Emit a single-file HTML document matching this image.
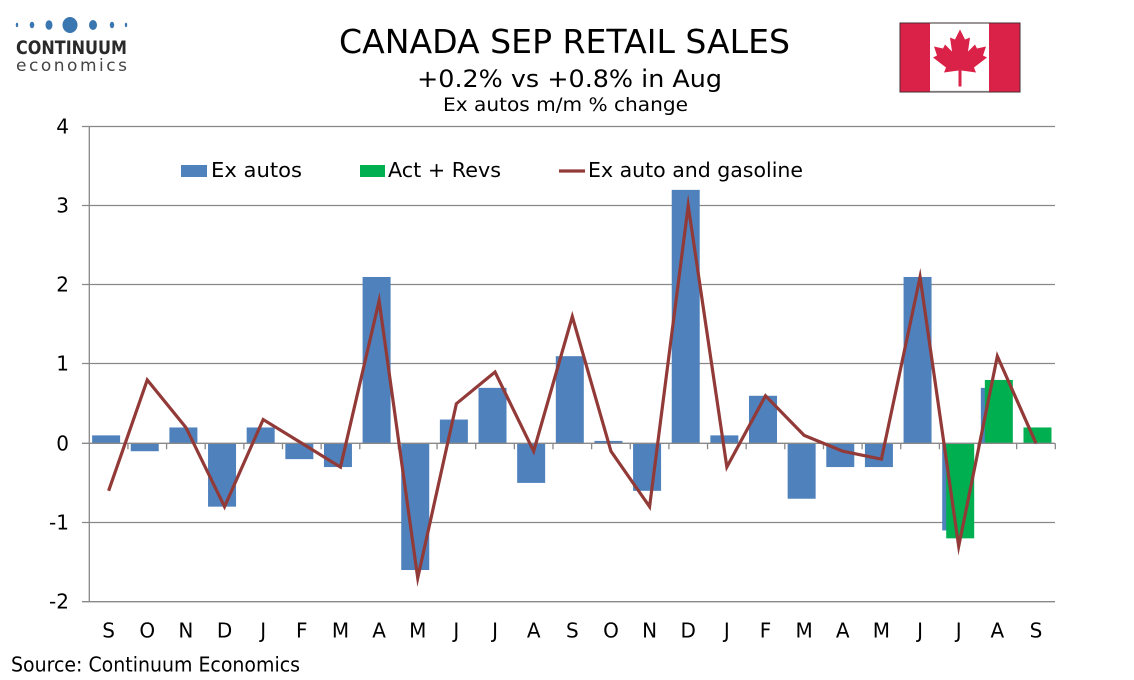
<!DOCTYPE html>
<html>
<head>
<meta charset="utf-8">
<style>
html,body{margin:0;padding:0;background:#fff;}
svg{display:block;}
text{font-family:"DejaVu Sans","Liberation Sans",sans-serif;}
</style>
</head>
<body>
<svg width="1134" height="680" viewBox="0 0 1134 680" xmlns="http://www.w3.org/2000/svg">
<rect width="1134" height="680" fill="#fff"/>

<!-- Logo -->
<g fill="#3a76b0">
<ellipse cx="17" cy="25" rx="1.2" ry="2.2"/>
<ellipse cx="32" cy="25" rx="2.3" ry="3.2"/>
<ellipse cx="49" cy="25" rx="3.5" ry="4.8"/>
<ellipse cx="70" cy="25" rx="7.5" ry="8"/>
<ellipse cx="93" cy="25" rx="4" ry="5"/>
<ellipse cx="112" cy="25" rx="2.2" ry="3.2"/>
<ellipse cx="126" cy="25" rx="1.2" ry="2.2"/>
</g>
<text x="16" y="54" font-size="19" font-weight="bold" fill="#2a2a2a" textLength="111" lengthAdjust="spacingAndGlyphs">CONTINUUM</text>
<text x="16" y="71" font-size="17" fill="#444" textLength="111" lengthAdjust="spacing">economics</text>

<!-- Titles -->
<text x="339" y="53" font-size="33" fill="#000" textLength="451" lengthAdjust="spacingAndGlyphs">CANADA SEP RETAIL SALES</text>
<text x="417" y="87" font-size="24" fill="#000" textLength="305" lengthAdjust="spacingAndGlyphs">+0.2% vs +0.8% in Aug</text>
<text x="443" y="111" font-size="19" fill="#000" textLength="245" lengthAdjust="spacingAndGlyphs">Ex autos m/m % change</text>

<!-- Flag -->
<g>
<rect x="900" y="23" width="120" height="69" fill="#fff" stroke="#333" stroke-width="1"/>
<rect x="900" y="23" width="30" height="69" fill="#da2148"/>
<rect x="989" y="23" width="31" height="69" fill="#da2148"/>
<rect x="900" y="23" width="120" height="69" fill="none" stroke="#3a2a2a" stroke-width="0.8"/>
<line x1="930" y1="91.5" x2="989" y2="91.5" stroke="#777" stroke-width="1.2"/>
<path transform="translate(960,57.5)" fill="#da2148" d="M0,-28 L5,-18 L10,-20 L8,-6 L15,-13 L17,-9 L26,-11 L23,-2 L27,0 L14,10 L16,15 L1.5,13 L1.5,29 L-1.5,29 L-1.5,13 L-16,15 L-14,10 L-27,0 L-23,-2 L-26,-11 L-17,-9 L-15,-13 L-8,-6 L-10,-20 L-5,-18 Z"/>
</g>

<!-- Gridlines -->
<g stroke="#888" stroke-width="1.3">
<line x1="82" y1="126.5" x2="1055" y2="126.5"/>
<line x1="82" y1="205.5" x2="1055" y2="205.5"/>
<line x1="82" y1="284.5" x2="1055" y2="284.5"/>
<line x1="82" y1="363.5" x2="1055" y2="363.5"/>
<line x1="82" y1="522.5" x2="1055" y2="522.5"/>
<line x1="82" y1="601.7" x2="1055" y2="601.7"/>
</g>

<!-- Blue bars -->
<g fill="#4f81bd">
<rect x="92.12" y="435.38" width="28" height="7.92"/>
<rect x="130.76" y="443.3" width="28" height="7.92"/>
<rect x="169.40" y="427.46" width="28" height="15.84"/>
<rect x="208.04" y="443.3" width="28" height="63.36"/>
<rect x="246.68" y="427.46" width="28" height="15.84"/>
<rect x="285.32" y="443.3" width="28" height="15.84"/>
<rect x="323.96" y="443.3" width="28" height="23.76"/>
<rect x="362.60" y="276.98" width="28" height="166.32"/>
<rect x="401.24" y="443.3" width="28" height="126.72"/>
<rect x="439.88" y="419.54" width="28" height="23.76"/>
<rect x="478.52" y="387.86" width="28" height="55.44"/>
<rect x="517.16" y="443.3" width="28" height="39.6"/>
<rect x="555.80" y="356.18" width="28" height="87.12"/>
<rect x="594.44" y="440.92" width="28" height="2.38"/>
<rect x="633.08" y="443.3" width="28" height="47.52"/>
<rect x="671.72" y="189.86" width="28" height="253.44"/>
<rect x="710.36" y="435.38" width="28" height="7.92"/>
<rect x="749.00" y="395.78" width="28" height="47.52"/>
<rect x="787.64" y="443.3" width="28" height="55.44"/>
<rect x="826.28" y="443.3" width="28" height="23.76"/>
<rect x="864.92" y="443.3" width="28" height="23.76"/>
<rect x="903.56" y="276.98" width="28" height="166.32"/>
<rect x="942.20" y="443.3" width="28" height="87.12"/>
<rect x="980.84" y="387.86" width="28" height="55.44"/>
</g>
<!-- Green bars -->
<g fill="#00b050">
<rect x="946.20" y="443.3" width="28" height="95.04"/>
<rect x="984.84" y="379.94" width="28" height="63.36"/>
<rect x="1023.48" y="427.46" width="28" height="15.84"/>
</g>

<!-- Axes -->
<g stroke="#888" stroke-width="1.3">
<line x1="82" y1="443.3" x2="1055" y2="443.3"/>
<line x1="89.3" y1="126" x2="89.3" y2="602"/>
<path d="M127.94,443.3v6 M166.58,443.3v6 M205.22,443.3v6 M243.86,443.3v6 M282.50,443.3v6 M321.14,443.3v6 M359.78,443.3v6 M398.42,443.3v6 M437.06,443.3v6 M475.70,443.3v6 M514.34,443.3v6 M552.98,443.3v6 M591.62,443.3v6 M630.26,443.3v6 M668.90,443.3v6 M707.54,443.3v6 M746.18,443.3v6 M784.82,443.3v6 M823.46,443.3v6 M862.10,443.3v6 M900.74,443.3v6 M939.38,443.3v6 M978.02,443.3v6 M1016.66,443.3v6 M1055.3,443.3v6"/>
</g>

<!-- Line series -->
<polyline fill="none" stroke="#923a37" stroke-width="3.2" stroke-linejoin="miter" stroke-miterlimit="10"
points="108.62,490.82 147.26,379.94 185.90,427.46 224.54,506.66 263.18,419.54 301.82,443.3 340.46,467.06 379.10,300.74 417.74,577.94 456.38,403.7 495.02,372.02 533.66,451.22 572.30,316.58 610.94,451.22 649.58,506.66 688.22,205.7 726.86,467.06 765.50,395.78 804.14,435.38 842.78,451.22 881.42,459.14 920.06,276.98 958.70,546.26 997.34,356.18 1035.98,443.3"/>

<!-- Y labels -->
<g font-size="20" fill="#000" text-anchor="end">
<text x="69" y="133.5">4</text>
<text x="69" y="212.5">3</text>
<text x="69" y="291.5">2</text>
<text x="69" y="370.5">1</text>
<text x="69" y="450.3">0</text>
<text x="69" y="529.5">-1</text>
<text x="69" y="608.7">-2</text>
</g>

<!-- X labels -->
<g font-size="20" fill="#000" text-anchor="middle">
<text x="108.62" y="637.5">S</text>
<text x="147.26" y="637.5">O</text>
<text x="185.90" y="637.5">N</text>
<text x="224.54" y="637.5">D</text>
<text x="263.18" y="637.5">J</text>
<text x="301.82" y="637.5">F</text>
<text x="340.46" y="637.5">M</text>
<text x="379.10" y="637.5">A</text>
<text x="417.74" y="637.5">M</text>
<text x="456.38" y="637.5">J</text>
<text x="495.02" y="637.5">J</text>
<text x="533.66" y="637.5">A</text>
<text x="572.30" y="637.5">S</text>
<text x="610.94" y="637.5">O</text>
<text x="649.58" y="637.5">N</text>
<text x="688.22" y="637.5">D</text>
<text x="726.86" y="637.5">J</text>
<text x="765.50" y="637.5">F</text>
<text x="804.14" y="637.5">M</text>
<text x="842.78" y="637.5">A</text>
<text x="881.42" y="637.5">M</text>
<text x="920.06" y="637.5">J</text>
<text x="958.70" y="637.5">J</text>
<text x="997.34" y="637.5">A</text>
<text x="1035.98" y="637.5">S</text>
</g>

<!-- Legend -->
<rect x="181" y="165" width="26" height="12" fill="#4f81bd"/>
<text x="211" y="177" font-size="20" fill="#000" textLength="91" lengthAdjust="spacingAndGlyphs">Ex autos</text>
<rect x="360" y="165" width="25" height="12" fill="#00b050"/>
<text x="388" y="177" font-size="20" fill="#000" textLength="113" lengthAdjust="spacingAndGlyphs">Act + Revs</text>
<line x1="559" y1="171" x2="585" y2="171" stroke="#923a37" stroke-width="3.2"/>
<text x="588" y="177" font-size="20" fill="#000" textLength="215" lengthAdjust="spacingAndGlyphs">Ex auto and gasoline</text>

<!-- Source -->
<text x="11" y="671.5" font-size="20" fill="#000" textLength="289" lengthAdjust="spacingAndGlyphs">Source: Continuum Economics</text>
</svg>
</body>
</html>
